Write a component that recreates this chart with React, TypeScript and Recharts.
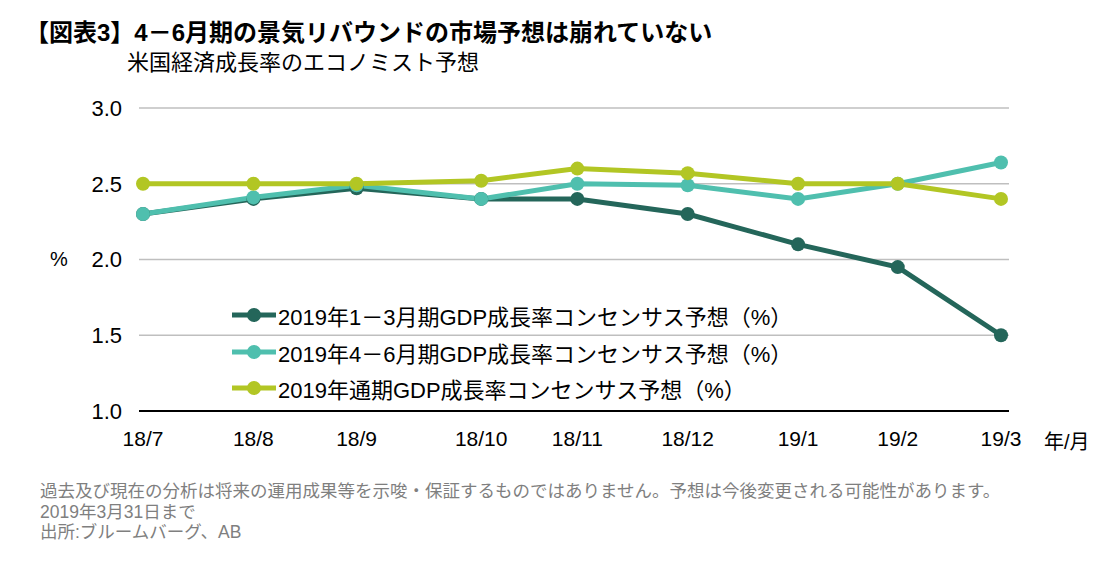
import React from "react";
import { LineChart, Line, XAxis, YAxis, CartesianGrid, Legend } from "recharts";

// survey dates, counted in days from the first survey (18/7)
const surveyDays = [0, 31, 60, 95, 122, 153, 184, 212, 241];
const monthLabels = ["18/7", "18/8", "18/9", "18/10", "18/11", "18/12", "19/1", "19/2", "19/3"];

const q1Forecast = [2.3, 2.4, 2.47, 2.4, 2.4, 2.3, 2.1, 1.95, 1.5];
const q2Forecast = [2.3, 2.41, 2.49, 2.4, 2.5, 2.49, 2.4, 2.5, 2.64];
const fullYearForecast = [2.5, 2.5, 2.5, 2.52, 2.6, 2.57, 2.5, 2.5, 2.4];

const yTicks = [1.0, 1.5, 2.0, 2.5, 3.0];

const seriesNames = [
  "2019年1－3月期GDP成長率コンセンサス予想（%）",
  "2019年4－6月期GDP成長率コンセンサス予想（%）",
  "2019年通期GDP成長率コンセンサス予想（%）",
];

const COLORS = ["#24665a", "#4fbfae", "#b2c624"];

const FONT = "'Liberation Sans', Arial, 'Noto Sans CJK JP', sans-serif";

const data = surveyDays.map((d, i) => ({
  day: d,
  q1: q1Forecast[i],
  q2: q2Forecast[i],
  fy: fullYearForecast[i],
}));

const labelFor = (v: number) => {
  const i = surveyDays.indexOf(v);
  return i >= 0 ? monthLabels[i] : "";
};

function LegendBox({ payload }: any) {
  return (
    <div style={{ fontFamily: FONT, fontSize: 22, color: "#000" }}>
      {(payload || []).map((p: any) => (
        <div key={p.value} style={{ display: "flex", alignItems: "center", height: 36.5 }}>
          <svg width={46} height={16} style={{ marginRight: 0 }}>
            <line x1={0} y1={8} x2={44} y2={8} stroke={p.color} strokeWidth={5} />
            <circle cx={22} cy={8} r={7} fill={p.color} />
          </svg>
          <span>{p.value}</span>
        </div>
      ))}
    </div>
  );
}

export default function App() {
  return (
    <div style={{ position: "relative", width: 1108, height: 563, background: "#fff", fontFamily: FONT }}>
      <style>{`body{margin:0}`}</style>
      <div style={{ position: "absolute", left: 25, top: 13, fontSize: 24, fontWeight: "bold", whiteSpace: "nowrap" }}>
        【図表3】4－6月期の景気リバウンドの市場予想は崩れていない
      </div>
      <div style={{ position: "absolute", left: 127, top: 44, fontSize: 22, whiteSpace: "nowrap" }}>
        米国経済成長率のエコノミスト予想
      </div>
      <div style={{ position: "absolute", left: 50, top: 248, fontSize: 20 }}>%</div>
      <div style={{ position: "absolute", left: 1044, top: 426, fontSize: 20 }}>年/月</div>

      <LineChart
        width={1108}
        height={563}
        data={data}
        margin={{ top: 108, right: 99, bottom: 122, left: 0 }}
        style={{ position: "absolute", left: 0, top: 0 }}
      >
        <CartesianGrid vertical={false} stroke="#bfbfbf" strokeWidth={1.5} />
        <XAxis
          dataKey="day"
          type="number"
          domain={[0, 241]}
          ticks={surveyDays}
          tickFormatter={labelFor}
          padding={{ left: 4, right: 8 }}
          height={30}
          axisLine={{ stroke: "#000", strokeWidth: 2 }}
          tickLine={false}
          tickMargin={14}
          tick={{ fill: "#000", fontSize: 21, fontFamily: FONT }}
          interval={0}
        />
        <YAxis
          type="number"
          domain={[1, 3]}
          ticks={yTicks}
          tickFormatter={(v: number) => v.toFixed(1)}
          width={139}
          axisLine={false}
          tickLine={false}
          tickMargin={11}
          tick={{ fill: "#000", fontSize: 22, fontFamily: FONT }}
        />
        <Legend
          layout="vertical"
          align="center"
          verticalAlign="middle"
          content={<LegendBox />}
          wrapperStyle={{ left: 232, top: 297, width: "auto" }}
        />
        <Line
          dataKey="q1"
          name={seriesNames[0]}
          stroke={COLORS[0]}
          strokeWidth={5}
          dot={{ r: 7, fill: COLORS[0], stroke: "none" }}
          isAnimationActive={false}
        />
        <Line
          dataKey="q2"
          name={seriesNames[1]}
          stroke={COLORS[1]}
          strokeWidth={5}
          dot={{ r: 7, fill: COLORS[1], stroke: "none" }}
          isAnimationActive={false}
        />
        <Line
          dataKey="fy"
          name={seriesNames[2]}
          stroke={COLORS[2]}
          strokeWidth={5}
          dot={{ r: 7, fill: COLORS[2], stroke: "none" }}
          isAnimationActive={false}
        />
      </LineChart>

      <div style={{ position: "absolute", left: 40, top: 481, fontSize: 17.5, color: "#7f7f7f", lineHeight: "20.5px", whiteSpace: "nowrap" }}>
        <div>過去及び現在の分析は将来の運用成果等を示唆・保証するものではありません。予想は今後変更される可能性があります。</div>
        <div>2019年3月31日まで</div>
        <div>出所:ブルームバーグ、AB</div>
      </div>
    </div>
  );
}
